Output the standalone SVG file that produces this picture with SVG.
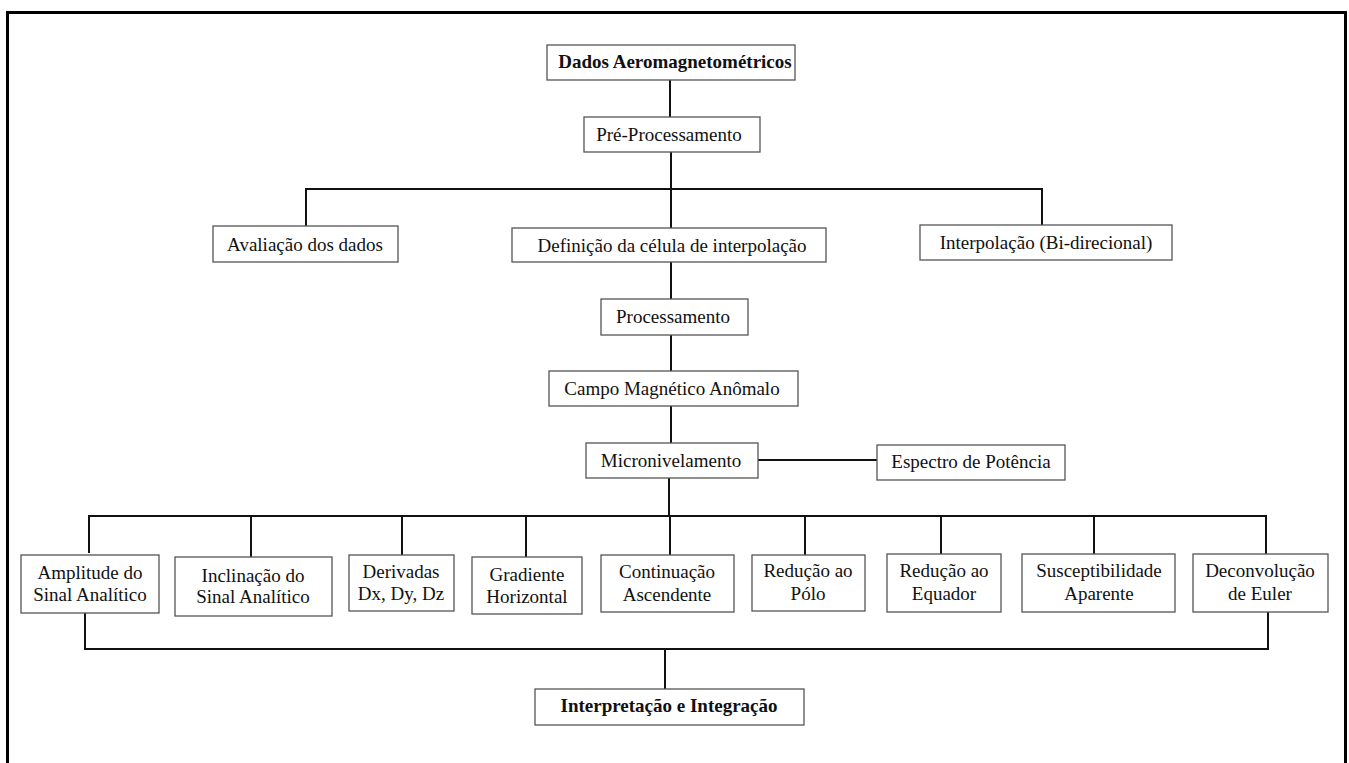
<svg xmlns="http://www.w3.org/2000/svg" width="1349" height="763" viewBox="0 0 1349 763">
<style>
.box{fill:#fff;stroke:#555;stroke-width:1.3}
.t{font-family:'Liberation Serif','Times New Roman','DejaVu Serif',serif;font-size:19px;fill:#111;text-anchor:middle}
.b{font-weight:bold}
.c{stroke:#111;stroke-width:2;fill:none}
</style>
<rect x="0" y="0" width="1349" height="763" fill="#fff"/>
<rect x="7.5" y="12.5" width="1338" height="770" fill="none" stroke="#000" stroke-width="3"/>
<g id="connectors">
<path class="c" d="M670 80V117 M671 152V228 M306 226V189H1042V225 M671 262V299 M671 335V371 M671 406V443 M758 460H877 M669 478V516 M89 553V516H1266V554 M251 516V557 M402 516V555 M526 516V557 M670 516V555 M805 516V555 M941 516V554 M1094 516V554 M85 613V649H1268V612 M665 649V689"/>
</g>
<g font-family="Liberation Serif, serif">
<g id="n-dados"><rect class="box" x="547" y="45" width="248" height="35"/><text class="t b" x="675" y="68">Dados Aeromagnetométricos</text></g>
<g id="n-pre"><rect class="box" x="584" y="117" width="176" height="35"/><text class="t" x="669" y="141">Pré-Processamento</text></g>
<g id="n-aval"><rect class="box" x="213" y="226" width="185" height="36"/><text class="t" x="305" y="251">Avaliação dos dados</text></g>
<g id="n-def"><rect class="box" x="512" y="228" width="314" height="34"/><text class="t" x="672" y="252">Definição da célula de interpolação</text></g>
<g id="n-interp"><rect class="box" x="920" y="225" width="252" height="35"/><text class="t" x="1046" y="249">Interpolação (Bi-direcional)</text></g>
<g id="n-proc"><rect class="box" x="601" y="299" width="147" height="36"/><text class="t" x="673" y="323">Processamento</text></g>
<g id="n-campo"><rect class="box" x="549" y="371" width="249" height="35"/><text class="t" x="672" y="395">Campo Magnético Anômalo</text></g>
<g id="n-micro"><rect class="box" x="586" y="443" width="172" height="35"/><text class="t" x="671" y="467">Micronivelamento</text></g>
<g id="n-espectro"><rect class="box" x="877" y="445" width="188" height="35"/><text class="t" x="971" y="468">Espectro de Potência</text></g>
<g id="n-amp"><rect class="box" x="21" y="555" width="138" height="58"/><text class="t" x="90" y="579">Amplitude do</text><text class="t" x="90" y="601">Sinal Analítico</text></g>
<g id="n-incl"><rect class="box" x="175" y="557" width="157" height="59"/><text class="t" x="253" y="582">Inclinação do</text><text class="t" x="253" y="603">Sinal Analítico</text></g>
<g id="n-deriv"><rect class="box" x="349" y="555" width="105" height="56"/><text class="t" x="401" y="578">Derivadas</text><text class="t" x="401" y="600">Dx, Dy, Dz</text></g>
<g id="n-grad"><rect class="box" x="472" y="557" width="110" height="57"/><text class="t" x="527" y="581">Gradiente</text><text class="t" x="527" y="603">Horizontal</text></g>
<g id="n-cont"><rect class="box" x="601" y="555" width="133" height="57"/><text class="t" x="667" y="578">Continuação</text><text class="t" x="667" y="601">Ascendente</text></g>
<g id="n-rpolo"><rect class="box" x="752" y="555" width="113" height="56"/><text class="t" x="808" y="577">Redução ao</text><text class="t" x="808" y="600">Pólo</text></g>
<g id="n-requ"><rect class="box" x="887" y="554" width="114" height="58"/><text class="t" x="944" y="577">Redução ao</text><text class="t" x="944" y="600">Equador</text></g>
<g id="n-susc"><rect class="box" x="1022" y="554" width="153" height="58"/><text class="t" x="1099" y="577">Susceptibilidade</text><text class="t" x="1099" y="600">Aparente</text></g>
<g id="n-deconv"><rect class="box" x="1193" y="554" width="135" height="58"/><text class="t" x="1260" y="577">Deconvolução</text><text class="t" x="1260" y="600">de Euler</text></g>
<g id="n-interpint"><rect class="box" x="535" y="689" width="269" height="36"/><text class="t b" x="669" y="712">Interpretação e Integração</text></g>
</g>
</svg>
